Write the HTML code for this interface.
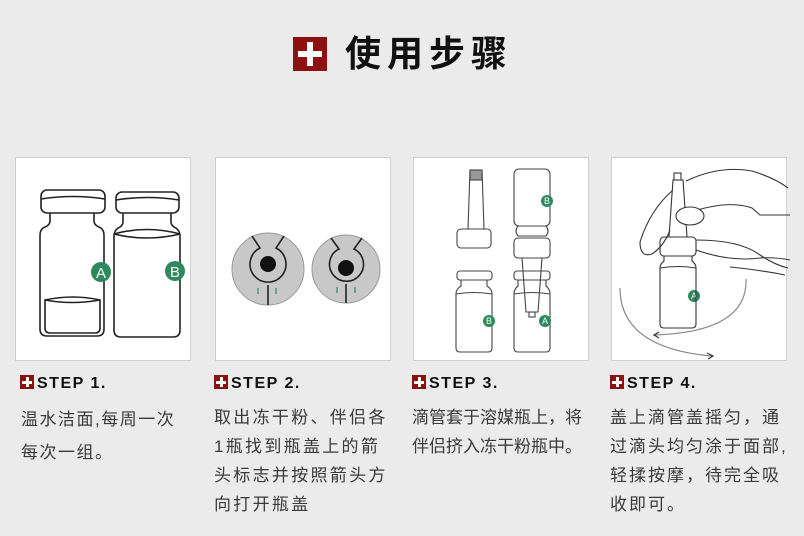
<!DOCTYPE html>
<html><head><meta charset="utf-8"><style>
body{margin:0;width:804px;height:536px;background:#ebebeb;position:relative;overflow:hidden;font-family:"Liberation Sans","Noto Sans CJK SC",sans-serif;}
.t{position:absolute;color:#3a3a3a;font-size:17px;line-height:29px;white-space:nowrap;}
.h{position:absolute;font-weight:bold;font-size:16px;letter-spacing:1.5px;color:#111;}
.sq{display:inline-block;width:14px;height:14px;background:#8e1111;position:relative;vertical-align:-1px;margin-right:3px;}
.sq:before{content:"";position:absolute;left:2px;top:5.5px;width:10px;height:3px;background:#fff;}
.sq:after{content:"";position:absolute;left:5.5px;top:2px;width:3px;height:10px;background:#fff;}
</style></head><body>
<svg width="804" height="536" style="position:absolute;left:0;top:0">
<rect x="293" y="37" width="34" height="34" fill="#8e1111"/>
<rect x="298" y="51" width="24" height="6" fill="#fff"/><rect x="307" y="42" width="6" height="24" fill="#fff"/>
<g fill="#fff" stroke="#d0d0d0" stroke-width="1">
<rect x="15.5" y="157.5" width="175" height="203"/>
<rect x="215.5" y="157.5" width="175" height="203"/>
<rect x="413.5" y="157.5" width="175" height="203"/>
<rect x="611.5" y="157.5" width="175" height="203"/>
</g>
<!-- panel1 -->
<g fill="none" stroke="#222" stroke-width="1.6">
<rect x="41" y="190" width="64" height="23" rx="6"/><path d="M41 199 Q73 194 105 199"/>
<path d="M50 213 v8 q0 4 -5 6 q-5 2 -5 8 v94 q0 7 7 7 h50 q7 0 7-7 v-94 q0-6-5-8 q-5-2-5-6 v-8"/>
<path d="M45 300 v28 q0 5 5 5 h45 q5 0 5-5 v-28 q-27-6-55 0z"/><path d="M45 300 q27 5 55 0"/>
<rect x="116" y="192" width="63" height="21" rx="6"/><path d="M116 200 Q148 195 179 200"/>
<path d="M123 213 v9 q0 4-5 6 q-4 3-4 8 v94 q0 7 7 7 h52 q7 0 7-7 v-94 q0-5-4-8 q-5-2-5-6 v-9"/>
<path d="M114 234 q33 -9 66 0 M114 234 q33 8 66 0"/>
</g>
<circle cx="101" cy="272" r="10" fill="#2e8a5c"/><text x="101" y="278" font-size="15" fill="#fff" text-anchor="middle" font-family="Liberation Sans">A</text>
<circle cx="175" cy="271" r="10" fill="#2e8a5c"/><text x="175" y="277" font-size="15" fill="#fff" text-anchor="middle" font-family="Liberation Sans">B</text>
<!-- panel2 -->
<g>
<circle cx="268" cy="269" r="36" fill="#c8c8c8" stroke="#999"/>
<path d="M252 236 l8 12 a18 18 0 1 0 16 0 l8-12" fill="none" stroke="#222" stroke-width="1.6"/>
<path d="M268 285 v20" stroke="#222" stroke-width="1.6"/>
<circle cx="268" cy="264" r="8" fill="#111"/>
<path d="M258 294 v-6 M276 294 v-6" stroke="#2e8a5c" stroke-width="1.2"/>
<circle cx="346" cy="269" r="34" fill="#c8c8c8" stroke="#999"/>
<path d="M331 238 l8 11 a17 17 0 1 0 15 0 l8-11" fill="none" stroke="#222" stroke-width="1.6"/>
<path d="M346 284 v19" stroke="#222" stroke-width="1.6"/>
<circle cx="346" cy="268" r="8" fill="#111"/>
<path d="M337 293 v-6 M355 293 v-6" stroke="#2e8a5c" stroke-width="1.2"/>
</g>
<!-- panel3 -->
<g fill="none" stroke="#444" stroke-width="1.1">
<path d="M470 170 h12 l2 59 h-16z"/><rect x="470" y="170" width="12" height="10" fill="#999"/>
<rect x="457" y="229" width="34" height="19" rx="4"/>
<rect x="457" y="271" width="35" height="9" rx="3"/>
<path d="M461 280 v6 q-5 3-5 8 v54 q0 4 4 4 h28 q4 0 4-4 v-54 q0-5-5-8 v-6"/><path d="M456 294 q18 -3 36 0"/>
<rect x="514" y="169" width="36" height="57" rx="5"/>
<path d="M518 226 q-4 5 0 10 h28 q4-5 0-10"/>
<rect x="514" y="238" width="36" height="20" rx="4"/>
<path d="M522 258 l4 54 h12 l4-54"/><rect x="529" y="312" width="6" height="5"/>
<rect x="514" y="271" width="36" height="9" rx="3"/>
<path d="M518 280 v6 q-4 3-4 8 v54 q0 4 4 4 h28 q4 0 4-4 v-54 q0-5-4-8 v-6"/><path d="M514 294 q18 -3 36 0"/>
</g>
<g fill="#2e8a5c"><circle cx="547" cy="201" r="6"/><circle cx="489" cy="321" r="6"/><circle cx="545" cy="321" r="6"/><circle cx="694" cy="296" r="6"/></g>
<g fill="#fff" font-size="9" text-anchor="middle" font-family="Liberation Sans"><text x="547" y="204">B</text><text x="489" y="324">B</text><text x="545" y="324">A</text><text x="694" y="299">A</text></g>
<!-- panel4 -->
<g fill="none" stroke="#333" stroke-width="1.1">
<rect x="674" y="173" width="7" height="7"/>
<path d="M673 180 h10 l4 57 h-18z"/>
<rect x="660" y="237" width="36" height="19" rx="4"/>
<path d="M664 256 v5 q-4 3-4 7 v56 q0 4 4 4 h28 q4 0 4-4 v-56 q0-4-4-7 v-5"/>
<path d="M660 268 q18 -3 36 0"/>
<path d="M686 181 Q720 165 752 171 Q775 178 788 188"/>
<path d="M673 190 Q650 210 640 242 Q640 258 652 254 Q664 246 670 230"/>
<path d="M694 211 Q730 200 752 208 L760 215 H790"/>
<ellipse cx="690" cy="216" rx="14" ry="9" fill="#fff"/>
<path d="M696 240 Q740 240 760 255 Q775 265 788 268"/>
<path d="M696 250 Q730 262 760 258 Q775 257 790 260"/>
<path d="M730 267 Q760 270 785 275"/>
</g>
<g fill="none" stroke="#888" stroke-width="1.2">
<path d="M620 288 Q620 348 712 356"/>
<path d="M746 279 Q748 332 654 335"/>
<path d="M707 353 l6 3 l-5 3 M659 332 l-5 3 l5 3" stroke="#333"/>
</g>
</svg>
<div style="position:absolute;left:345px;top:30px;font-size:36px;font-weight:bold;color:#111;letter-spacing:6px;font-family:'Liberation Sans','Noto Sans CJK SC',sans-serif;line-height:48px">使用步骤</div>
<div class="h" style="left:20px;top:375px"><span class="sq"></span>STEP 1.</div>
<div class="h" style="left:214px;top:375px"><span class="sq"></span>STEP 2.</div>
<div class="h" style="left:412px;top:375px"><span class="sq"></span>STEP 3.</div>
<div class="h" style="left:610px;top:375px"><span class="sq"></span>STEP 4.</div>
<div class="t" style="left:21px;top:403px;letter-spacing:1.5px;line-height:33px">温水洁面,每周一次<br>每次一组。</div>
<div class="t" style="left:214px;top:403px;letter-spacing:2.3px">取出冻干粉、伴侣各<br>1瓶找到瓶盖上的箭<br>头标志并按照箭头方<br>向打开瓶盖</div>
<div class="t" style="left:412px;top:403px;letter-spacing:0px">滴管套于溶媒瓶上，将<br>伴侣挤入冻干粉瓶中。</div>
<div class="t" style="left:610px;top:403px;letter-spacing:2px">盖上滴管盖摇匀，通<br>过滴头均匀涂于面部,<br>轻揉按摩，待完全吸<br>收即可。</div>
</body></html>
